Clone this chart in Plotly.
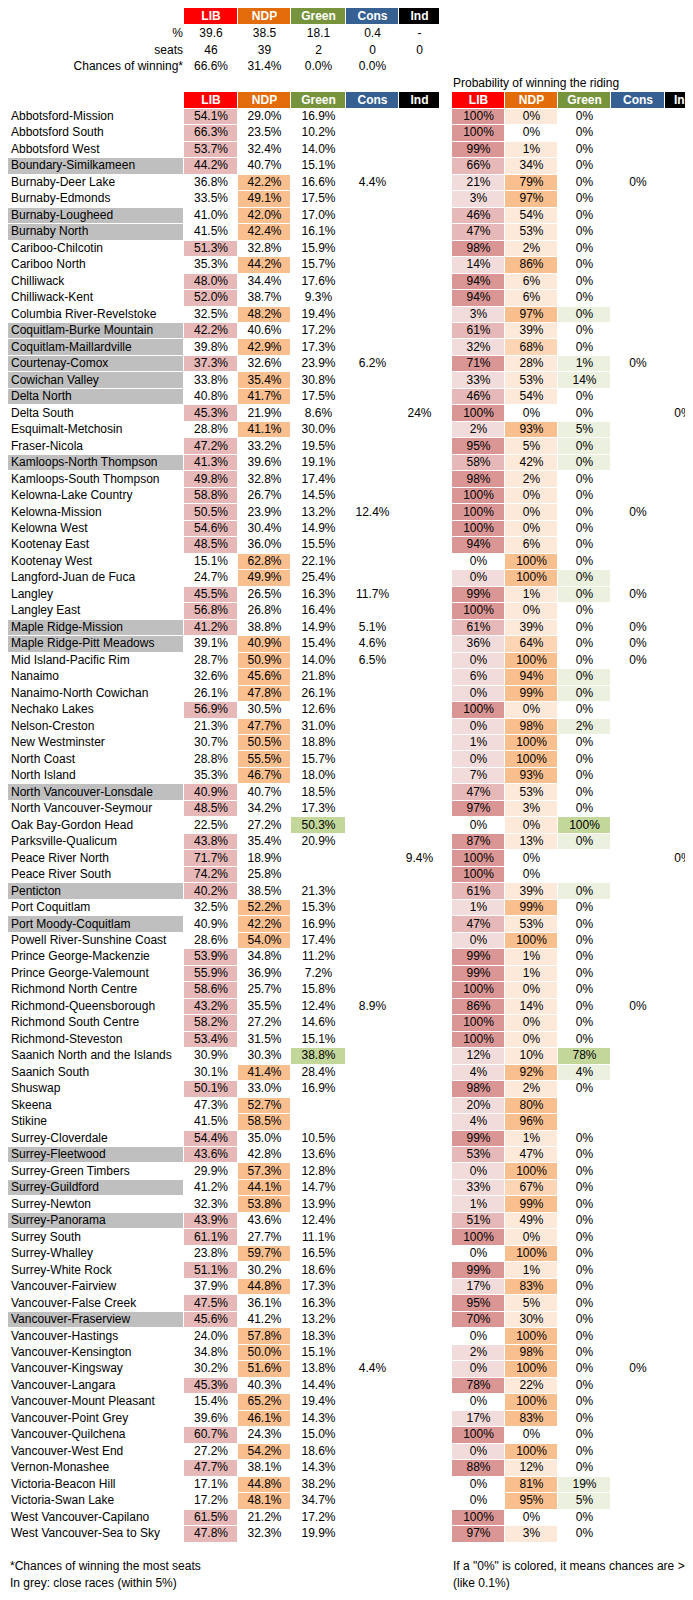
import plotly.graph_objects as go

W, H = 693, 1600
parties = ["LIB", "NDP", "Green", "Cons", "Ind"]
head_colors = ["#ff0000", "#e26b0a", "#77933c", "#366092", "#000000"]

sum_labels = ["%", "seats", "Chances of winning*"]
sum_pct = ["39.6", "38.5", "18.1", "0.4", "-"]
sum_seats = ["46", "39", "2", "0", "0"]
sum_chance = ["66.6%", "31.4%", "0.0%", "0.0%", ""]

names = ["Abbotsford-Mission","Abbotsford South","Abbotsford West","Boundary-Similkameen","Burnaby-Deer Lake","Burnaby-Edmonds","Burnaby-Lougheed","Burnaby North","Cariboo-Chilcotin","Cariboo North","Chilliwack","Chilliwack-Kent","Columbia River-Revelstoke","Coquitlam-Burke Mountain","Coquitlam-Maillardville","Courtenay-Comox","Cowichan Valley","Delta North","Delta South","Esquimalt-Metchosin","Fraser-Nicola","Kamloops-North Thompson","Kamloops-South Thompson","Kelowna-Lake Country","Kelowna-Mission","Kelowna West","Kootenay East","Kootenay West","Langford-Juan de Fuca","Langley","Langley East","Maple Ridge-Mission","Maple Ridge-Pitt Meadows","Mid Island-Pacific Rim","Nanaimo","Nanaimo-North Cowichan","Nechako Lakes","Nelson-Creston","New Westminster","North Coast","North Island","North Vancouver-Lonsdale","North Vancouver-Seymour","Oak Bay-Gordon Head","Parksville-Qualicum","Peace River North","Peace River South","Penticton","Port Coquitlam","Port Moody-Coquitlam","Powell River-Sunshine Coast","Prince George-Mackenzie","Prince George-Valemount","Richmond North Centre","Richmond-Queensborough","Richmond South Centre","Richmond-Steveston","Saanich North and the Islands","Saanich South","Shuswap","Skeena","Stikine","Surrey-Cloverdale","Surrey-Fleetwood","Surrey-Green Timbers","Surrey-Guildford","Surrey-Newton","Surrey-Panorama","Surrey South","Surrey-Whalley","Surrey-White Rock","Vancouver-Fairview","Vancouver-False Creek","Vancouver-Fraserview","Vancouver-Hastings","Vancouver-Kensington","Vancouver-Kingsway","Vancouver-Langara","Vancouver-Mount Pleasant","Vancouver-Point Grey","Vancouver-Quilchena","Vancouver-West End","Vernon-Monashee","Victoria-Beacon Hill","Victoria-Swan Lake","West Vancouver-Capilano","West Vancouver-Sea to Sky"]
N = None
lib = [54.1,66.3,53.7,44.2,36.8,33.5,41.0,41.5,51.3,35.3,48.0,52.0,32.5,42.2,39.8,37.3,33.8,40.8,45.3,28.8,47.2,41.3,49.8,58.8,50.5,54.6,48.5,15.1,24.7,45.5,56.8,41.2,39.1,28.7,32.6,26.1,56.9,21.3,30.7,28.8,35.3,40.9,48.5,22.5,43.8,71.7,74.2,40.2,32.5,40.9,28.6,53.9,55.9,58.6,43.2,58.2,53.4,30.9,30.1,50.1,47.3,41.5,54.4,43.6,29.9,41.2,32.3,43.9,61.1,23.8,51.1,37.9,47.5,45.6,24.0,34.8,30.2,45.3,15.4,39.6,60.7,27.2,47.7,17.1,17.2,61.5,47.8]
ndp = [29.0,23.5,32.4,40.7,42.2,49.1,42.0,42.4,32.8,44.2,34.4,38.7,48.2,40.6,42.9,32.6,35.4,41.7,21.9,41.1,33.2,39.6,32.8,26.7,23.9,30.4,36.0,62.8,49.9,26.5,26.8,38.8,40.9,50.9,45.6,47.8,30.5,47.7,50.5,55.5,46.7,40.7,34.2,27.2,35.4,18.9,25.8,38.5,52.2,42.2,54.0,34.8,36.9,25.7,35.5,27.2,31.5,30.3,41.4,33.0,52.7,58.5,35.0,42.8,57.3,44.1,53.8,43.6,27.7,59.7,30.2,44.8,36.1,41.2,57.8,50.0,51.6,40.3,65.2,46.1,24.3,54.2,38.1,44.8,48.1,21.2,32.3]
grn = [16.9,10.2,14.0,15.1,16.6,17.5,17.0,16.1,15.9,15.7,17.6,9.3,19.4,17.2,17.3,23.9,30.8,17.5,8.6,30.0,19.5,19.1,17.4,14.5,13.2,14.9,15.5,22.1,25.4,16.3,16.4,14.9,15.4,14.0,21.8,26.1,12.6,31.0,18.8,15.7,18.0,18.5,17.3,50.3,20.9,N,N,21.3,15.3,16.9,17.4,11.2,7.2,15.8,12.4,14.6,15.1,38.8,28.4,16.9,N,N,10.5,13.6,12.8,14.7,13.9,12.4,11.1,16.5,18.6,17.3,16.3,13.2,18.3,15.1,13.8,14.4,19.4,14.3,15.0,18.6,14.3,38.2,34.7,17.2,19.9]
cons = {4:4.4, 15:6.2, 24:12.4, 29:11.7, 31:5.1, 32:4.6, 33:6.5, 54:8.9, 76:4.4}
ind = {18:24, 45:9.4}
close = [3,6,7,13,14,15,16,17,21,31,32,41,47,49,63,65,67,73]
# win probabilities (0.1 = shown as 0% but >0)
plib = [100,100,99,66,21,3,46,47,98,14,94,94,3,61,32,71,33,46,100,2,95,58,98,100,100,100,94,0,0.1,99,100,61,36,0.1,6,0.1,100,0.1,1,0.1,7,47,97,0,87,100,100,61,1,47,0.1,99,99,100,86,100,100,12,4,98,20,4,99,53,0.1,33,1,51,100,0,99,17,95,70,0,2,0.1,78,0,17,100,0.1,88,0,0,100,97]
pndp = [0.1,0,1,34,79,97,54,53,2,86,6,6,97,39,68,28,53,54,0,93,5,42,2,0.1,0.1,0.1,6,100,100,1,0.1,39,64,100,94,99,0.1,98,100,100,93,53,3,0.1,13,0,0,39,99,53,100,1,1,0.1,14,0.1,0.1,10,92,2,80,96,1,47,100,67,99,49,0.1,100,1,83,5,30,100,98,100,22,100,83,0,100,12,81,95,0,3]
pgrn = [0,0,0,0,0,0,0,0,0,0,0,0,0.1,0,0,1,14,0,0,5,0.1,0.1,0,0,0,0,0,0,0.1,0.1,0,0,0,0,0.1,0.1,0,2,0,0,0,0,0,100,0.1,N,N,0.1,0,0,0,0,0,0,0,0,0,78,4,0,N,N,0,0,0,0,0,0,0,0,0,0,0,0,0,0,0,0,0,0,0,0,0,19,5,0,0]

n = len(names)
FONT = "Liberation Sans, Arial"
FS = 12

# layout geometry (pixel-like axis units)
name_col = (0, 176)
main_cols = [(176, 230), (230, 283), (283, 338), (338, 391), (391, 432)]
prob_cols = [(444, 497), (497, 550), (550, 603), (603, 657), (657, 693)]
ROW = 16.48
FIRST = 109
HEAD_Y = 92.5
def yc(i): return FIRST + i * ROW

def pc1(v): return "" if v is None else f"{v:.1f}%"
def pc0(v): return "" if v is None else f"{round(v):d}%"

def clib(v):
    if v is None or v == 0: return "white"
    return "#da9694" if v >= 70 else ("#e6b8b7" if v >= 45 else "#f2dcdb")
def cndp(v):
    if v is None or v == 0: return "white"
    return "#fabf8f" if v >= 75 else ("#fcd5b4" if v >= 60 else "#fde9d9")
def cgrn(v):
    if v is None or v == 0: return "white"
    return "#c4d79b" if v >= 50 else "#ebf1de"

fig = go.Figure()

def add_cells(col, ys, colors, h=ROW):
    x0, x1 = col
    fig.add_trace(go.Bar(x=[(x0 + x1) / 2] * len(ys), y=[h] * len(ys),
                         base=[y - h / 2 for y in ys], width=[x1 - x0] * len(ys),
                         marker=dict(color=colors, line=dict(color="white", width=1)),
                         hoverinfo="skip", showlegend=False))

def add_text(xs, ys, texts, pos="middle center", color="black", bold=False):
    t = [f"<b>{s}</b>" if (bold and s) else s for s in texts]
    fig.add_trace(go.Scatter(x=xs, y=ys, mode="text", text=t, textposition=pos,
                             textfont=dict(family=FONT, size=FS, color=color),
                             hoverinfo="skip", showlegend=False))

rows = list(range(n))
ys = [yc(i) for i in rows]

# headers
for cols, hy in ((main_cols, 8.5), (main_cols, HEAD_Y), (prob_cols, HEAD_Y)):
    for k, col in enumerate(cols):
        add_cells(col, [hy], [head_colors[k]], h=17)
    add_text([(a + b) / 2 for a, b in cols], [hy] * 5, parties, color="white", bold=True)

# summary rows
sum_y = [26, 42.5, 59]
add_text([175] * 3, sum_y, sum_labels, pos="middle left")
for k, col in enumerate(main_cols):
    add_text([(col[0] + col[1]) / 2] * 3, sum_y, [sum_pct[k], sum_seats[k], sum_chance[k]])

# main vote share cells
lead = []
for i in rows:
    vals = [lib[i], ndp[i], grn[i] or 0]
    lead.append(vals.index(max(vals)))
lead_colors = ["#e6b8b7", "#fabf8f", "#c4d79b"]
add_cells(name_col, ys, ["#bfbfbf" if i in close else "white" for i in rows])
for k in range(3):
    add_cells(main_cols[k], ys, [lead_colors[k] if lead[i] == k else "white" for i in rows])
add_text([3] * n, ys, names, pos="middle right")
vote_cols = [[pc1(v) for v in lib], [pc1(v) for v in ndp], [pc1(v) for v in grn],
             [pc1(cons[i]) if i in cons else "" for i in rows],
             [f"{ind[i]:g}%" if i in ind else "" for i in rows]]
for k, col in enumerate(main_cols):
    add_text([(col[0] + col[1]) / 2] * n, ys, vote_cols[k])

# probability cells
add_cells(prob_cols[0], ys, [clib(v) for v in plib])
add_cells(prob_cols[1], ys, [cndp(v) for v in pndp])
add_cells(prob_cols[2], ys, [cgrn(v) for v in pgrn])
prob_text = [[pc0(v) for v in plib], [pc0(v) for v in pndp], [pc0(v) for v in pgrn],
             ["0%" if i in cons else "" for i in rows],
             ["0%" if i in ind else "" for i in rows]]
for k, col in enumerate(prob_cols):
    add_text([(col[0] + col[1]) / 2] * n, ys, prob_text[k])

notes = [
    (445, 76, "Probability of winning the riding"),
    (2, 1559, "*Chances of winning the most seats"),
    (2, 1576, "In grey: close races (within 5%)"),
    (445, 1559, "If a \"0%\" is colored, it means chances are >0%"),
    (445, 1576, "(like 0.1%)"),
]
add_text([x for x, _, _ in notes], [y for _, y, _ in notes], [t for _, _, t in notes],
         pos="middle right")

fig.update_layout(width=W, height=H, margin=dict(l=0, r=0, t=0, b=0),
                  paper_bgcolor="white", plot_bgcolor="white", barmode="overlay", bargap=0,
                  xaxis=dict(range=[0, W], visible=False, fixedrange=True),
                  yaxis=dict(range=[H, 0], visible=False, fixedrange=True))
fig.write_html("out.html")
